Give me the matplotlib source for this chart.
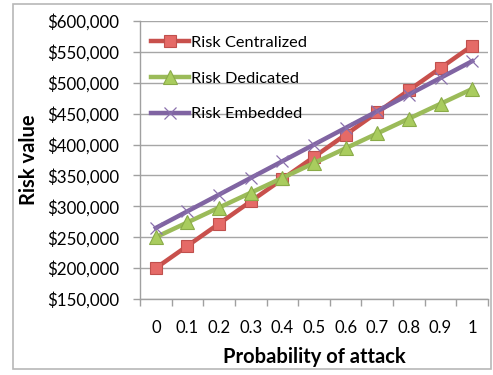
import matplotlib
matplotlib.use("Agg")
import matplotlib.pyplot as plt
from matplotlib.ticker import FuncFormatter, FixedLocator

plt.rcParams['font.family'] = ['Lato', 'DejaVu Sans']

probabilities = ["0", "0.1", "0.2", "0.3", "0.4", "0.5", "0.6", "0.7", "0.8", "0.9", "1"]
risk_centralized = [200000, 236000, 272000, 308000, 344000, 380000, 416000, 452000, 488000, 524000, 560000]
risk_dedicated = [250000, 274000, 298000, 322000, 346000, 370000, 394000, 418000, 442000, 466000, 490000]
risk_embedded = [265000, 292000, 319000, 346000, 373000, 400000, 427000, 454000, 481000, 508000, 535000]
y_ticks = [150000, 200000, 250000, 300000, 350000, 400000, 450000, 500000, 550000, 600000]

W, H = 493, 375
fig = plt.figure(figsize=(W / 100, H / 100), dpi=100)
ax = fig.add_axes([140 / W, 1 - 299 / H, (488 - 140) / W, (299 - 21) / H])

# outer chart frame
fig.patches.append(plt.Rectangle((13 / W, 1 - 369 / H), (491 - 13) / W, (369 - 4) / H,
                                 transform=fig.transFigure, fill=False,
                                 edgecolor="#b8b8b8", linewidth=1.2))

x = list(range(len(probabilities)))
ax.plot(x, risk_centralized, color="#c8504c", linewidth=3.2, marker="s", markersize=9,
        markerfacecolor="#e56a67", markeredgecolor="#c0504d", markeredgewidth=0.8,
        label="Risk Centralized", zorder=3)
ax.plot(x, risk_dedicated, color="#9bbb59", linewidth=3.2, marker="^", markersize=10,
        markerfacecolor="#a9cc5e", markeredgecolor="#8aab48", markeredgewidth=0.8,
        label="Risk Dedicated", zorder=3)
ax.plot(x, risk_embedded, color="#8064a2", linewidth=3.2, marker="x", markersize=8,
        markeredgecolor="#8a70ad", markeredgewidth=0.9,
        label="Risk Embedded", zorder=4)

ax.set_xlim(-0.5, len(probabilities) - 0.5)
ax.set_ylim(150000, 600000)
ax.set_xticks(x)
ax.set_xticklabels(probabilities)
ax.xaxis.set_minor_locator(FixedLocator([i - 0.5 for i in range(len(probabilities) + 1)]))
ax.tick_params(axis="x", which="major", length=0, pad=15, labelsize=12)
ax.tick_params(axis="x", which="minor", length=5, color="#a0a0a0", width=1)
ax.set_yticks(y_ticks)
ax.yaxis.set_major_formatter(FuncFormatter(lambda v, p: "${:,.0f}".format(v)))
ax.tick_params(axis="y", length=5, color="#a0a0a0", width=1, pad=10, labelsize=12.2)

ax.grid(axis="y", color="#a6a6a6", linewidth=1)
ax.set_axisbelow(True)
for s in ["top", "right"]:
    ax.spines[s].set_visible(False)
for s in ["left", "bottom"]:
    ax.spines[s].set_color("#a0a0a0")
    ax.spines[s].set_linewidth(1)

ax.set_xlabel("Probability of attack", fontsize=14.5, fontweight="bold", labelpad=8)
ax.set_ylabel("Risk value", fontsize=14.5, fontweight="bold", labelpad=6)

leg = ax.legend(loc="upper left", bbox_to_anchor=(0.0, 0.99), frameon=False, fontsize=11.8,
                handlelength=2.3, handletextpad=0.1, labelspacing=1.3, borderaxespad=0.3)

fig.savefig("out.png", dpi=100)
